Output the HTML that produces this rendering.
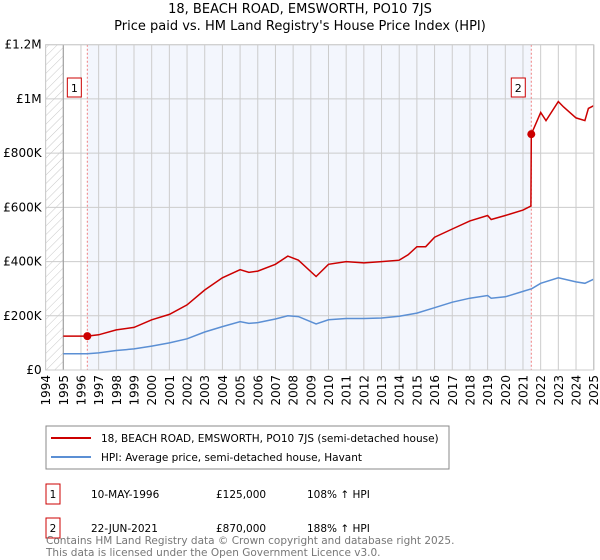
<!DOCTYPE html>
<html><head><meta charset="utf-8"><style>
body{margin:0;background:#fff;font-family:"Liberation Sans","DejaVu Sans",sans-serif;}
svg{display:block}
</style></head><body>
<svg width="600" height="560" viewBox="0 0 600 560" font-family="DejaVu Sans, Liberation Sans, sans-serif">
<defs>
<pattern id="hatch" width="6" height="6" patternUnits="userSpaceOnUse" patternTransform="rotate(45)">
<line x1="0" y1="0" x2="0" y2="6" stroke="#c8c8c8" stroke-width="1"/></pattern>
</defs>
<text x="300" y="13" text-anchor="middle" font-size="13">18, BEACH ROAD, EMSWORTH, PO10 7JS</text>
<text x="300" y="30" text-anchor="middle" font-size="13">Price paid vs. HM Land Registry's House Price Index (HPI)</text>
<g id="plot"></g>
<g>
<rect x="46" y="426" width="403" height="43" fill="#fff" stroke="#888"/>
<line x1="51" y1="438" x2="91" y2="438" stroke="#cc0000" stroke-width="2"/>
<text x="101" y="442" font-size="10.5">18, BEACH ROAD, EMSWORTH, PO10 7JS (semi-detached house)</text>
<line x1="51" y1="457" x2="91" y2="457" stroke="#5b8fd4" stroke-width="2"/>
<text x="101" y="461" font-size="10.5">HPI: Average price, semi-detached house, Havant</text>
</g>
<g font-size="10.5">
<rect x="46" y="484" width="14" height="20" fill="#fff" stroke="#cc0000"/>
<text x="53" y="498" text-anchor="middle">1</text>
<text x="91" y="498">10-MAY-1996</text><text x="216" y="498">£125,000</text><text x="307" y="498">108% ↑ HPI</text>
<rect x="46" y="518" width="14" height="20" fill="#fff" stroke="#cc0000"/>
<text x="53" y="532" text-anchor="middle">2</text>
<text x="91" y="532">22-JUN-2021</text><text x="216" y="532">£870,000</text><text x="307" y="532">188% ↑ HPI</text>
</g>
<text x="46" y="544" font-size="10.5" fill="#777">Contains HM Land Registry data © Crown copyright and database right 2025.</text>
<text x="46" y="556" font-size="10.5" fill="#777">This data is licensed under the Open Government Licence v3.0.</text>
</svg>
<script>
const redYears=[1995,1996.36,1997,1998,1999,2000,2001,2002,2003,2004,2005,2005.5,2006,2007,2007.7,2008.3,2009.3,2010,2011,2012,2013,2014,2014.5,2015,2015.5,2016,2017,2018,2019,2019.2,2020,2021,2021.45,2021.47,2022,2022.3,2023,2023.3,2024,2024.5,2024.7,2025];
const redValues=[125000,125000,130000,148000,157000,185000,205000,240000,295000,340000,370000,360000,365000,390000,420000,405000,345000,390000,400000,395000,400000,405000,425000,455000,455000,490000,520000,550000,570000,555000,570000,590000,605000,870000,950000,920000,990000,970000,930000,920000,965000,975000];
const hpiYears=[1995,1996.36,1997,1998,1999,2000,2001,2002,2003,2004,2005,2005.5,2006,2007,2007.7,2008.3,2009.3,2010,2011,2012,2013,2014,2015,2016,2017,2018,2019,2019.2,2020,2021,2021.5,2022,2023,2024,2024.5,2025];
const hpiValues=[60000,60000,63000,72000,78000,88000,100000,115000,140000,160000,178000,172000,175000,188000,200000,197000,170000,185000,190000,190000,192000,198000,210000,230000,250000,265000,275000,265000,270000,290000,300000,320000,340000,325000,320000,335000];
const yTicks=[0,200000,400000,600000,800000,1000000,1200000];
const yTickLabels=["£0","£200K","£400K","£600K","£800K","£1M","£1.2M"];
const xTicks=[1994,1995,1996,1997,1998,1999,2000,2001,2002,2003,2004,2005,2006,2007,2008,2009,2010,2011,2012,2013,2014,2015,2016,2017,2018,2019,2020,2021,2022,2023,2024,2025];
const saleYears=[1996.36,2021.47];
const saleValues=[125000,870000];
const saleLabels=["1","2"];

const NS="http://www.w3.org/2000/svg";
const X0=45.6,X1=593.7,Y0=370,Y1=44.7;
const xs=y=>X0+(y-1994)/31*(X1-X0);
const ys=v=>Y0-v/1200000*(Y0-Y1);
const g=document.getElementById('plot');
function mk(t,a){const e=document.createElementNS(NS,t);for(const k in a)e.setAttribute(k,a[k]);g.appendChild(e);return e;}
let e;
e=mk('rect',{x:X0,y:Y1,width:X1-X0,height:Y0-Y1,fill:'#fff'});


e=mk('rect',{x:xs(saleYears[0]),y:Y1,width:xs(saleYears[1])-xs(saleYears[0]),height:Y0-Y1,fill:'#f3f6fd'});


e=mk('rect',{x:X0,y:Y1,width:xs(1995)-X0,height:Y0-Y1,fill:'url(#hatch)'});


yTicks.forEach((v,i)=>{
 e=mk('line',{x1:X0,x2:X1,y1:ys(v),y2:ys(v),stroke:'#ccc'});
 
 
 e=mk('text',{x:X0-4,y:ys(v)+4,'text-anchor':'end','font-size':12});
 e.textContent=yTickLabels[i];
 
 
});
xTicks.forEach(y=>{
 e=mk('line',{x1:xs(y),x2:xs(y),y1:Y1,y2:Y0,stroke:'#ccc'});
 
 
 e=mk('text',{x:0,y:0,'text-anchor':'end','font-size':12,transform:`translate(${xs(y)+4.5},${Y0+5}) rotate(-90)`});
 e.textContent=y;
 
 
});
e=mk('line',{x1:xs(1995),x2:xs(1995),y1:Y1,y2:Y0,stroke:'#999'});


e=mk('line',{x1:X1,x2:X1,y1:Y1,y2:Y0,stroke:'#999'});


saleYears.forEach((y,i)=>{
 e=mk('line',{x1:xs(y),x2:xs(y),y1:Y1,y2:Y0,stroke:'#f08080','stroke-dasharray':'2,2'});
 
 
 e=mk('rect',{x:xs(y)-20,y:78,width:14,height:19,fill:'#fff',stroke:'#cc0000'});
 
 
 e=mk('text',{x:xs(y)-13,y:92,'text-anchor':'middle','font-size':11});
 e.textContent=saleLabels[i];
 
 
});
const pts=(xa,va)=>xa.map((y,i)=>xs(y).toFixed(1)+','+ys(va[i]).toFixed(1)).join(' ');
e=mk('polyline',{points:pts(hpiYears,hpiValues),fill:'none',stroke:'#5b8fd4','stroke-width':1.5});


e=mk('polyline',{points:pts(redYears,redValues),fill:'none',stroke:'#cc0000','stroke-width':1.5});


saleYears.forEach((y,i)=>{
 e=mk('circle',{cx:xs(y),cy:ys(saleValues[i]),r:4,fill:'#cc0000'});
 
 
});
e=mk('rect',{x:X0,y:Y1,width:X1-X0,height:Y0-Y1,fill:'none',stroke:'#ccc'});


</script>
</body></html>
